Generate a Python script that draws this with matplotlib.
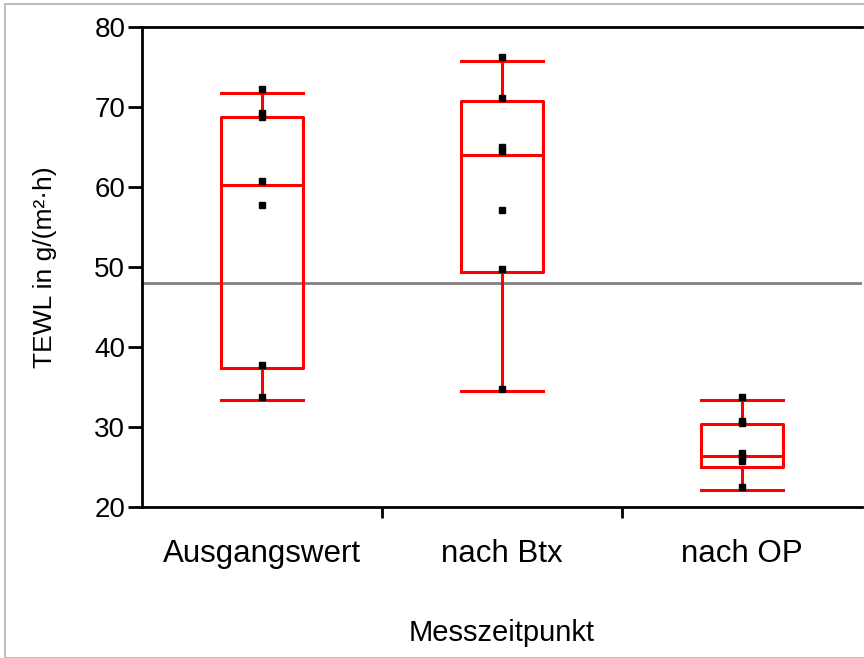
import matplotlib
matplotlib.use("Agg")
import matplotlib.pyplot as plt
from matplotlib.patches import Rectangle

plt.rcParams["font.family"] = ["Liberation Sans", "DejaVu Sans"]

# Messzeitpunkte
gruppen = ["Ausgangswert", "nach Btx", "nach OP"]

# Einzelwerte je Gruppe
werte_aus = [72.2, 69.2, 68.7, 60.8, 57.8, 37.8, 33.8]
werte_btx = [76.2, 71.1, 65.0, 64.5, 57.1, 49.8, 34.8]
werte_op = [33.8, 30.7, 30.5, 26.8, 26.3, 25.7, 22.5]

# Boxplot-Kennwerte: unterer Whisker, Q1, Median, Q3, oberer Whisker
w_unten = [33.4, 34.5, 22.1]
q1 = [37.4, 49.4, 25.0]
median = [60.3, 64.0, 26.4]
q3 = [68.7, 70.7, 30.4]
w_oben = [71.7, 75.7, 33.4]

mittelwert = 48.0

fig = plt.figure(figsize=(8.64, 6.58), dpi=100)
ax = fig.add_axes([142 / 864, 1 - 507 / 658, 720 / 864, 480 / 658])

# Rahmen um die ganze Grafik
fig.patches.append(Rectangle((5 / 864, 0), 1, 1 - 4 / 658, transform=fig.transFigure,
                             fill=False, edgecolor="#b0b0b0", lw=1.2))

ax.axhline(mittelwert, color="#808080", lw=2, zorder=1)

stats = [dict(whislo=w_unten[i], q1=q1[i], med=median[i], q3=q3[i], whishi=w_oben[i], fliers=[])
         for i in range(len(gruppen))]
red = dict(color="#ff0000", lw=2.2)
ax.bxp(stats, positions=range(len(gruppen)), widths=0.34, showfliers=False,
       boxprops=red, medianprops=red, whiskerprops=red, capprops=red, capwidths=0.34)

for i, werte in enumerate([werte_aus, werte_btx, werte_op]):
    ax.plot([i] * len(werte), werte, ls="none", marker="s", ms=4.5, color="black", zorder=5)

ax.set_xlim(-0.5, 2.5)
ax.set_ylim(20, 80)
ax.set_yticks(range(20, 81, 10))
ax.set_xticks(range(len(gruppen)))
ax.set_xticklabels(gruppen, fontsize=22.5)
ax.set_xticks([0.5, 1.5], minor=True)
ax.tick_params(axis="x", which="major", length=0, pad=23)
ax.tick_params(axis="x", which="minor", length=8, width=2, direction="out")
ax.tick_params(axis="y", length=10, width=2, labelsize=20, pad=2)

for s in ["left", "bottom", "top"]:
    ax.spines[s].set_linewidth(2)
ax.spines["right"].set_visible(False)

ax.set_ylabel("TEWL in g/(m²·h)", fontsize=19, labelpad=27)
ax.set_xlabel("Messzeitpunkt", fontsize=21, labelpad=36)

fig.savefig("out.png", dpi=100)
